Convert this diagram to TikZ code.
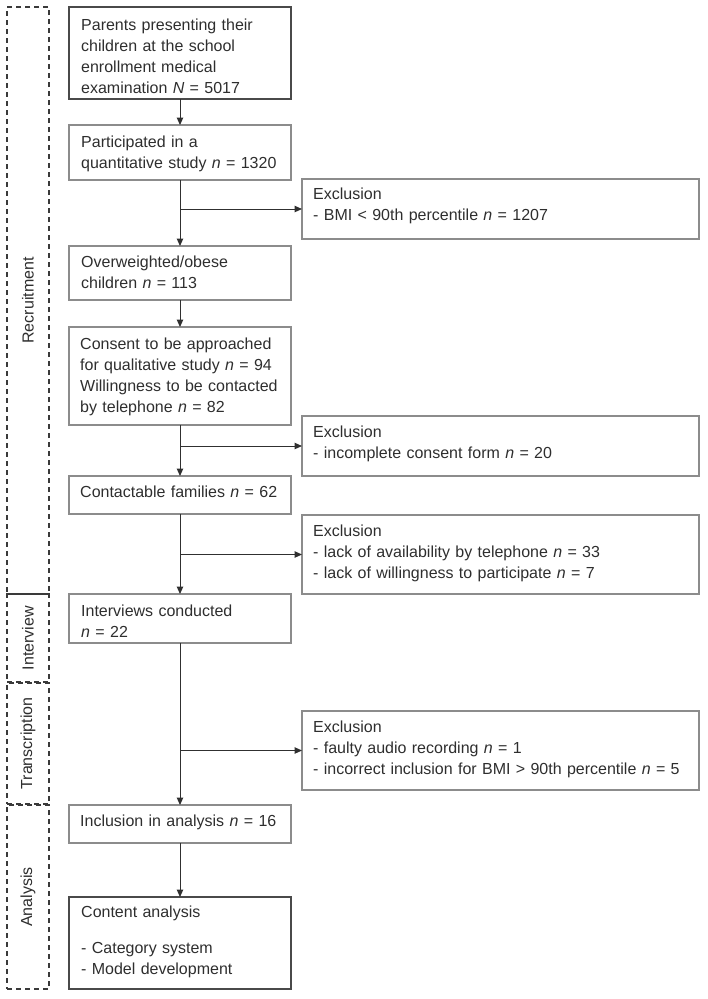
\documentclass[tikz,border=0pt]{standalone}
\usepackage{fontspec}
\setmainfont{Liberation Sans}
\usetikzlibrary{arrows.meta,calc}
\definecolor{txtc}{HTML}{2E2E2E}
\definecolor{bordc}{HTML}{8C8C8C}
\definecolor{borddk}{HTML}{4A4A4A}
\definecolor{linec}{HTML}{303030}
\definecolor{dashc}{HTML}{3A3A3A}
\begin{document}
\begin{tikzpicture}[x=1pt,y=-1pt,
  mainbox/.style={draw=bordc, line width=1.1pt, minimum width=222pt, inner sep=0pt, outer sep=0pt},
  exbox/.style={draw=bordc, line width=1.1pt, minimum width=397pt, inner sep=0pt, outer sep=0pt},
  sidebox/.style={draw=dashc, line width=1.1pt, dash pattern=on 5pt off 4pt, minimum width=42pt, inner sep=0pt, outer sep=0pt},
  tx/.style={anchor=base west, inner sep=0pt, align=left, text=txtc, font=\fontsize{16}{21}\selectfont},
  sidelabel/.style={rotate=90, inner sep=0pt, text=txtc, font=\fontsize{16}{21}\selectfont},
  arr/.style={draw=linec, line width=1pt, -{Triangle[length=7.5pt,width=6.5pt]}}
]
\useasboundingbox (0,0) rectangle (708,999);

% side phase boxes
\node[sidebox, minimum height=587pt] (sr) at (28,300.5) {};
\node[sidebox, minimum height=88pt] (si) at (28,638) {};
\node[sidebox, minimum height=121pt] (st) at (28,743.5) {};
\node[sidebox, minimum height=184pt] (sa) at (28,897) {};
\node[sidelabel] (lr) at (sr.center) {Recruitment};
\node[sidelabel] (li) at (si.center) {Interview};
\node[sidelabel] (lt) at (st.center) {Transcription};
\node[sidelabel] (la) at (sa.center) {Analysis};

% main boxes
\node[mainbox, draw=borddk, minimum height=92pt] (b1) at (180,53) {};
\node[mainbox, minimum height=55pt] (b2) at (180,152.5) {};
\node[mainbox, minimum height=54pt] (b3) at (180,273) {};
\node[mainbox, minimum height=98pt] (b4) at (180,376) {};
\node[mainbox, minimum height=38pt] (b5) at (180,495) {};
\node[mainbox, minimum height=49pt] (b6) at (180,618.5) {};
\node[mainbox, minimum height=38pt] (b7) at (180,824) {};
\node[mainbox, draw=borddk, minimum height=92pt] (b8) at (180,943) {};

\node[tx, text width=212pt] (t1) at ($(b1.north west)+(12,23)$) {Parents presenting their\\children at the school\\enrollment medical\\examination \textit{N} = 5017};
\node[tx, text width=212pt] (t2) at ($(b2.north west)+(12,22)$) {Participated in a\\quantitative study \textit{n} = 1320};
\node[tx, text width=212pt] (t3) at ($(b3.north west)+(12,21)$) {Overweighted/obese\\children \textit{n} = 113};
\node[tx, text width=212pt] (t4) at ($(b4.north west)+(11,22)$) {Consent to be approached\\for qualitative study \textit{n} = 94\\Willingness to be contacted\\by telephone \textit{n} = 82};
\node[tx, text width=212pt] (t5) at ($(b5.north west)+(11,21)$) {Contactable families \textit{n} = 62};
\node[tx, text width=212pt] (t6) at ($(b6.north west)+(12,22)$) {Interviews conducted\\\textit{n} = 22};
\node[tx, text width=212pt] (t7) at ($(b7.north west)+(11,21)$) {Inclusion in analysis \textit{n} = 16};
\node[tx, text width=212pt] (t8) at ($(b8.north west)+(12,20)$) {Content analysis\\[15pt]- Category system\\- Model development};

% exclusion boxes
\node[exbox, minimum height=60pt] (e1) at (500.5,209) {};
\node[exbox, minimum height=60pt] (e2) at (500.5,446) {};
\node[exbox, minimum height=79pt] (e3) at (500.5,554.5) {};
\node[exbox, minimum height=79pt] (e4) at (500.5,750.5) {};

\node[tx, text width=380pt] (f1) at ($(e1.north west)+(11,20)$) {Exclusion\\- BMI < 90th percentile \textit{n} = 1207};
\node[tx, text width=380pt] (f2) at ($(e2.north west)+(11,21)$) {Exclusion\\- incomplete consent form \textit{n} = 20};
\node[tx, text width=380pt] (f3) at ($(e3.north west)+(11,21)$) {Exclusion\\- lack of availability by telephone \textit{n} = 33\\- lack of willingness to participate \textit{n} = 7};
\node[tx, text width=380pt] (f4) at ($(e4.north west)+(11,21)$) {Exclusion\\- faulty audio recording \textit{n} = 1\\- incorrect inclusion for BMI > 90th percentile \textit{n} = 5};

% junctions
\coordinate (j1) at (b2.south |- e1.west);
\coordinate (j2) at (b4.south |- e2.west);
\coordinate (j3) at (b5.south |- e3.west);
\coordinate (j4) at (b6.south |- e4.west);

% connectors
\draw[arr] (b1.south) -- (b2.north);
\draw[arr] (b2.south) -- (b3.north);
\draw[arr] (j1) -- (e1.west);
\draw[arr] (b3.south) -- (b4.north);
\draw[arr] (b4.south) -- (b5.north);
\draw[arr] (j2) -- (e2.west);
\draw[arr] (b5.south) -- (b6.north);
\draw[arr] (j3) -- (e3.west);
\draw[arr] (b6.south) -- (b7.north);
\draw[arr] (j4) -- (e4.west);
\draw[arr] (b7.south) -- (b8.north);
\end{tikzpicture}
\end{document}
